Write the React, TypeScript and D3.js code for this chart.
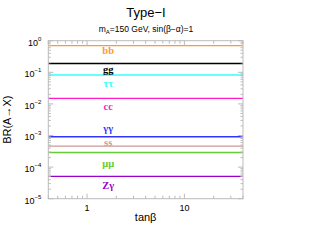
import React from 'react';
import * as d3 from 'd3';

// branching ratios, constant in tanβ
const channels = ['bb', 'gg', 'ττ', 'cc', 'γγ', 'ss', 'μμ', 'Zγ'];
const brValues = [0.7, 0.19, 0.082, 0.015, 9.1e-4, 4.6e-4, 2.9e-4, 5.1e-5];
const labelValues = [0.48, 0.12, 0.044, 0.0082, 1.7e-3, 6.0e-4, 1.3e-4, 2.6e-5];
const colors = ['#ff9933', '#000000', '#33ffff', '#ff1acc', '#3333ff', '#cc9999', '#66cc33', '#9900cc'];
const tanbDomain = [0.4, 40];
const xTicks = [1, 10];
const yExps = [0, -1, -2, -3, -4, -5];

const W = 310, H = 240;
const margin = { top: 40.7, right: 67, bottom: 41.3, left: 48.3 };

export default function App() {
  const w = W - margin.left - margin.right;
  const h = H - margin.top - margin.bottom;
  const x = d3.scaleLog().domain(tanbDomain).range([0, w]);
  const y = d3.scaleLog().domain([1e-5, 1]).range([h, 0]);

  const xMinor: number[] = [];
  for (let d = 0.1; d < 100; d *= 10) {
    for (let k = 1; k < 10; k++) {
      const v = +(d * k).toPrecision(3);
      if (v >= tanbDomain[0] && v <= tanbDomain[1]) xMinor.push(v);
    }
  }
  const yMinor: number[] = [];
  for (let e = -5; e < 0; e++) {
    for (let k = 2; k < 10; k++) yMinor.push(k * Math.pow(10, e));
  }
  const tickCol = '#bbbbbb';
  const sans = 'Liberation Sans, Arial, sans-serif';

  return (
    <svg width={W} height={H} style={{ position: 'absolute', left: 0, top: 0 }}>
      <text x={146} y={17} textAnchor="middle" fontFamily={sans} fontSize={13}>Type−I</text>
      <text x={146} y={32} textAnchor="middle" fontFamily={sans} fontSize={8.5}>
        m<tspan fontSize={6} dy={2}>A</tspan><tspan dy={-2}>=150 GeV, sin(β−α)=1</tspan>
      </text>
      <g transform={`translate(${margin.left},${margin.top})`}>
        {brValues.map((v, i) => (
          <line key={channels[i]} x1={0} x2={w} y1={y(v)} y2={y(v)} stroke={colors[i]} strokeWidth={1.4} />
        ))}
        {channels.map((c, i) => (
          <text key={c} x={x(1.65)} y={y(labelValues[i])} textAnchor="middle" dy="0.35em"
            fontFamily="Liberation Serif, Times New Roman, serif" fontWeight="bold" fontSize={10.5}
            fill={colors[i]}>{c}</text>
        ))}
        <rect x={0} y={0} width={w} height={h} fill="none" stroke={tickCol} strokeWidth={1} />
        {xMinor.map(v => {
          const major = xTicks.includes(v);
          const len = major ? 5 : 3;
          return (
            <g key={'x' + v} stroke={tickCol}>
              <line x1={x(v)} x2={x(v)} y1={h} y2={h - len} />
              <line x1={x(v)} x2={x(v)} y1={0} y2={len} />
            </g>
          );
        })}
        {yMinor.map(v => (
          <g key={'y' + v} stroke={tickCol}>
            <line x1={0} x2={2.5} y1={y(v)} y2={y(v)} />
            <line x1={w} x2={w - 2.5} y1={y(v)} y2={y(v)} />
          </g>
        ))}
        {yExps.map(e => (
          <g key={'ye' + e}>
            <line x1={0} x2={5} y1={y(Math.pow(10, e))} y2={y(Math.pow(10, e))} stroke={tickCol} />
            <line x1={w} x2={w - 5} y1={y(Math.pow(10, e))} y2={y(Math.pow(10, e))} stroke={tickCol} />
            <text x={-7} y={y(Math.pow(10, e)) + 5} textAnchor="end" fontFamily={sans} fontSize={9}>
              10<tspan fontSize={6} dy={-5}>{e === 0 ? '0' : '−' + -e}</tspan>
            </text>
          </g>
        ))}
        {xTicks.map(v => (
          <text key={'xt' + v} x={x(v)} y={h + 12.5} textAnchor="middle" fontFamily={sans} fontSize={9}>{v}</text>
        ))}
        <text x={w / 2} y={h + 22.5} textAnchor="middle" fontFamily={sans} fontSize={11}>tanβ</text>
        <text transform={`translate(${-37},${h / 2}) rotate(-90)`} textAnchor="middle" fontFamily={sans} fontSize={11}>BR(A→X)</text>
      </g>
    </svg>
  );
}
